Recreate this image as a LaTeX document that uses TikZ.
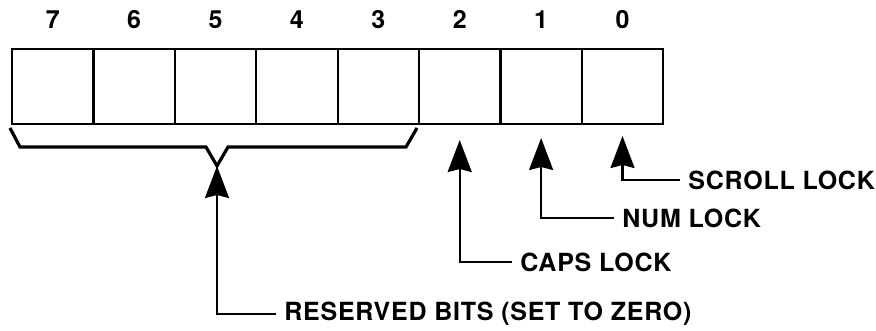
\documentclass[tikz,border=0pt]{standalone}
\usepackage{fontspec}
\setmainfont{TeX Gyre Heros}
\newfontfamily\flagfont[LetterSpace=3]{TeX Gyre Heros}
\usetikzlibrary{positioning, arrows.meta}

\begin{document}
\begin{tikzpicture}[x=0.5pt, y=-0.5pt,
        bitcell/.style={draw, line width=1.1pt, minimum width=40.7pt,
                        minimum height=37.5pt, inner sep=0pt, outer sep=0pt},
        bitnum/.style={font=\bfseries\fontsize{12.5}{15}\selectfont, inner sep=0pt},
        flaglabel/.style={font=\flagfont\bfseries\fontsize{12.5}{15}\selectfont,
                          anchor=west, inner sep=4pt},
        pointer/.style={line width=1.1pt,
                        -{Stealth[length=16pt, width=12pt, inset=1.5pt]}}]
    \useasboundingbox (0,0) rectangle (876,331);

    % the eight bits, bit 7 on the left
    \foreach \b [count=\i from 0] in {7,6,...,0}
        \node[bitcell] (c\b) at ({52.7+81.4*\i}, 86.5) {};
    \foreach \b in {7,6,...,0}
        \node[bitnum, above=10pt of c\b] (n\b) {\b};

    % brace under bits 7..3
    \draw[line width=1.6pt] (10,128) -- (20,147) -- (206,147) -- (217,166)
        -- (228,147) -- (406,147) -- (417,128);
    \coordinate (vtip) at (217,166);

    \coordinate (t2) at ([yshift=-8pt]c2.south);
    \coordinate (t1) at ([yshift=-7pt]c1.south);
    \coordinate (t0) at ([yshift=-6pt]c0.south);

    \node[flaglabel] (scroll) at (680,180) {SCROLL LOCK};
    \node[flaglabel] (num) at (614,218) {NUM LOCK};
    \node[flaglabel] (caps) at (512,262) {CAPS LOCK};
    \node[flaglabel] (reserved) at (276,314) {RESERVED BITS\ (SET TO ZERO)};

    \draw[pointer] (scroll.west) -| (t0);
    \draw[pointer] (num.west) -| (t1);
    \draw[pointer] (caps.west) -| (t2);
    \draw[pointer] (reserved.west) -| (vtip);
\end{tikzpicture}
\end{document}
